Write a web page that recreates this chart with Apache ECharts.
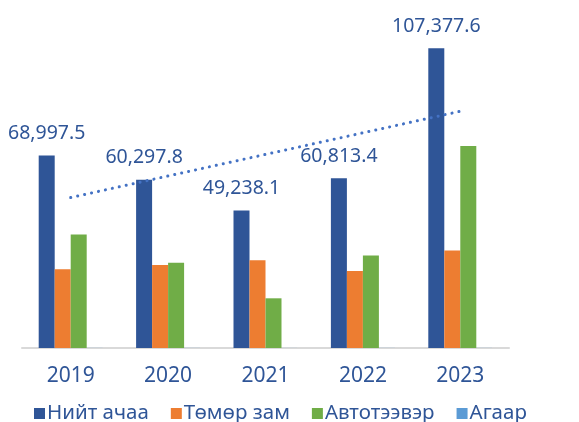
<!DOCTYPE html>
<html>
<head>
<meta charset="utf-8">
<script src="https://cdn.jsdelivr.net/npm/echarts@6/dist/echarts.min.js"></script>
<style>
  html, body { margin: 0; padding: 0; background: #fff; }
  #chart { width: 579px; height: 422px; }
</style>
</head>
<body>
<div id="chart"></div>
<script>
const years = ["2019", "2020", "2021", "2022", "2023"]
const seriesNames = ["Нийт ачаа", "Төмөр зам", "Автотээвэр", "Агаар"]
const total = [68997.5, 60297.8, 49238.1, 60813.4, 107377.6]
const rail = [28200, 29700, 31400, 27600, 34900]
const road = [40700, 30500, 17800, 33100, 72400]
const air = [30, 30, 20, 30, 30]

// linear trendline for total (like excel)
const n = total.length
const mx = (n + 1) / 2
const my = total.reduce((a, b) => a + b, 0) / n
let sxy = 0, sxx = 0
total.forEach((v, i) => {
  sxy += (i + 1 - mx) * (v - my)
  sxx += (i + 1 - mx) * (i + 1 - mx)
})
const slope = sxy / sxx
const trend = total.map((v, i) => my + slope * (i + 1 - mx))

const font = "Noto Sans"
const fmt = v => v.toLocaleString("en-US", { minimumFractionDigits: 1, maximumFractionDigits: 1 })

const chart = echarts.init(document.getElementById("chart"))
chart.setOption({
  animation: false,
  textStyle: { fontFamily: font },
  grid: { left: 22, right: 70, top: 13, bottom: 74 },
  legend: {
    data: seriesNames,
    left: 29,
    top: 398,
    itemWidth: 11,
    itemHeight: 11,
    itemGap: 22,
    icon: "rect",
    textStyle: { fontSize: 20.5, color: "#2F5597", fontFamily: font, padding: [0, 0, 0, -3] }
  },
  xAxis: {
    type: "category",
    data: years,
    axisLine: { lineStyle: { color: "#D9D9D9", width: 2 } },
    axisTick: { show: false },
    axisLabel: { fontSize: 21, color: "#2F5597", margin: 18, fontFamily: font }
  },
  yAxis: {
    type: "value",
    min: 0,
    max: 120000,
    show: false,
    splitLine: { show: false }
  },
  series: [
    {
      name: seriesNames[0],
      type: "bar",
      barWidth: 16,
      barGap: "0%",
      data: total,
      itemStyle: { color: "#2F5597" },
      label: {
        show: true,
        position: "top",
        distance: 12,
        fontSize: 19.5,
        color: "#2F5597",
        fontFamily: font,
        formatter: p => fmt(p.value)
      }
    },
    { name: seriesNames[1], type: "bar", barWidth: 16, barGap: "0%", data: rail, itemStyle: { color: "#ED7D31" } },
    { name: seriesNames[2], type: "bar", barWidth: 16, barGap: "0%", data: road, itemStyle: { color: "#70AD47" } },
    { name: seriesNames[3], type: "bar", barWidth: 16, barGap: "0%", data: air, itemStyle: { color: "#5B9BD5" } },
    {
      name: "trend",
      type: "line",
      data: trend,
      symbol: "none",
      silent: true,
      z: 5,
      lineStyle: { color: "#4472C4", width: 3, type: [0.1, 7], cap: "round" }
    }
  ]
})
</script>
</body>
</html>
